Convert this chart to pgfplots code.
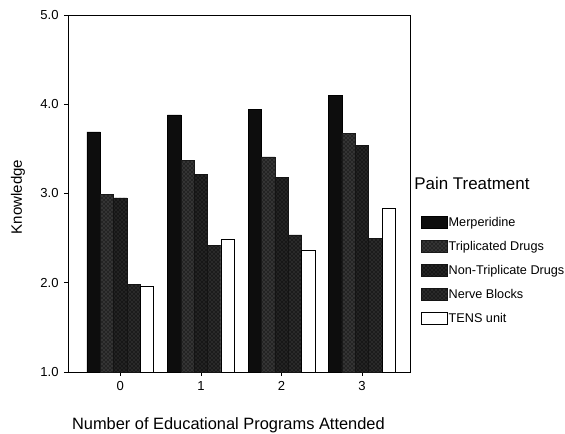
\documentclass[border=0pt]{standalone}
\usepackage{fontspec}
\setmainfont{Liberation Sans}
\usepackage{pgfplots}
\pgfplotsset{compat=1.18}
\usetikzlibrary{patterns}
\begin{document}
\begin{tikzpicture}
\useasboundingbox (-51pt,-46.5pt) rectangle (372.75pt,279pt);
\begin{axis}[
  at={(0,0)}, anchor=south west,
  scale only axis,
  width=256.5pt, height=267.75pt,
  xmin=-0.65, xmax=3.595,
  ymin=1, ymax=5,
  xtick={0,1,2,3},
  ytick={1,2,3,4,5},
  yticklabel={\pgfmathprintnumber[fixed,fixed zerofill,precision=1]{\tick}},
  /pgf/number format/assume math mode=true,
  tick align=outside,
  xtick pos=left, ytick pos=left,
  major tick length=3pt,
  tick style={black, line width=0.6pt},
  axis line style={line width=0.6pt},
  ticklabel style={font=\fontsize{9.8}{11}\selectfont},
  yticklabel style={xshift=-0.5pt},
  xticklabel style={yshift=-0.5pt},
  every axis y label/.style={at={(axis description cs:-0.146,0.49)},rotate=90,anchor=center},
  every axis x label/.style={at={(axis description cs:0.469,-0.148)},anchor=center},
  ylabel={\fontsize{11.3}{13}\selectfont Knowledge},
  xlabel={\fontsize{12.3}{14}\selectfont Number of Educational Programs Attended},
  ybar,
  bar width=0.166,
  legend style={at={(axis description cs:1.032,0.437)}, anchor=north west, draw=none, fill=none,
     inner sep=0pt, row sep=8.6pt, font=\fontsize{9.5}{11}\selectfont,
     nodes={inner sep=0.5pt}},
  legend cell align=left,
  legend image code/.code={\draw[#1] (0pt,-4.5pt) rectangle (19.5pt,4.5pt);},
  clip=false,
]
\addplot[bar shift=-0.332, fill=black!95, draw=black] coordinates {(0,3.69) (1,3.88) (2,3.94) (3,4.10)};
\addlegendentry{Merperidine}
\addplot[bar shift=-0.166, fill=black!86, draw=black!90, postaction={pattern=crosshatch dots, pattern color=black!58}] coordinates {(0,2.99) (1,3.37) (2,3.41) (3,3.67)};
\addlegendentry{Triplicated Drugs}
\addplot[bar shift=0, fill=black!91, draw=black!92, postaction={pattern=crosshatch dots, pattern color=black!70}] coordinates {(0,2.95) (1,3.21) (2,3.18) (3,3.54)};
\addlegendentry{Non-Triplicate Drugs}
\addplot[bar shift=0.166, fill=black!89, draw=black!92, postaction={pattern=crosshatch dots, pattern color=black!65}] coordinates {(0,1.98) (1,2.42) (2,2.535) (3,2.50)};
\addlegendentry{Nerve Blocks}
\addplot[bar shift=0.332, fill=white, draw=black, line width=0.6pt] coordinates {(0,1.955) (1,2.49) (2,2.36) (3,2.83)};
\addlegendentry{TENS unit}
\node[anchor=west, inner sep=0pt, font=\fontsize{12.7}{14}\selectfont] at (axis description cs:1.012,0.529) {Pain Treatment};
\end{axis}
\end{tikzpicture}
\end{document}
